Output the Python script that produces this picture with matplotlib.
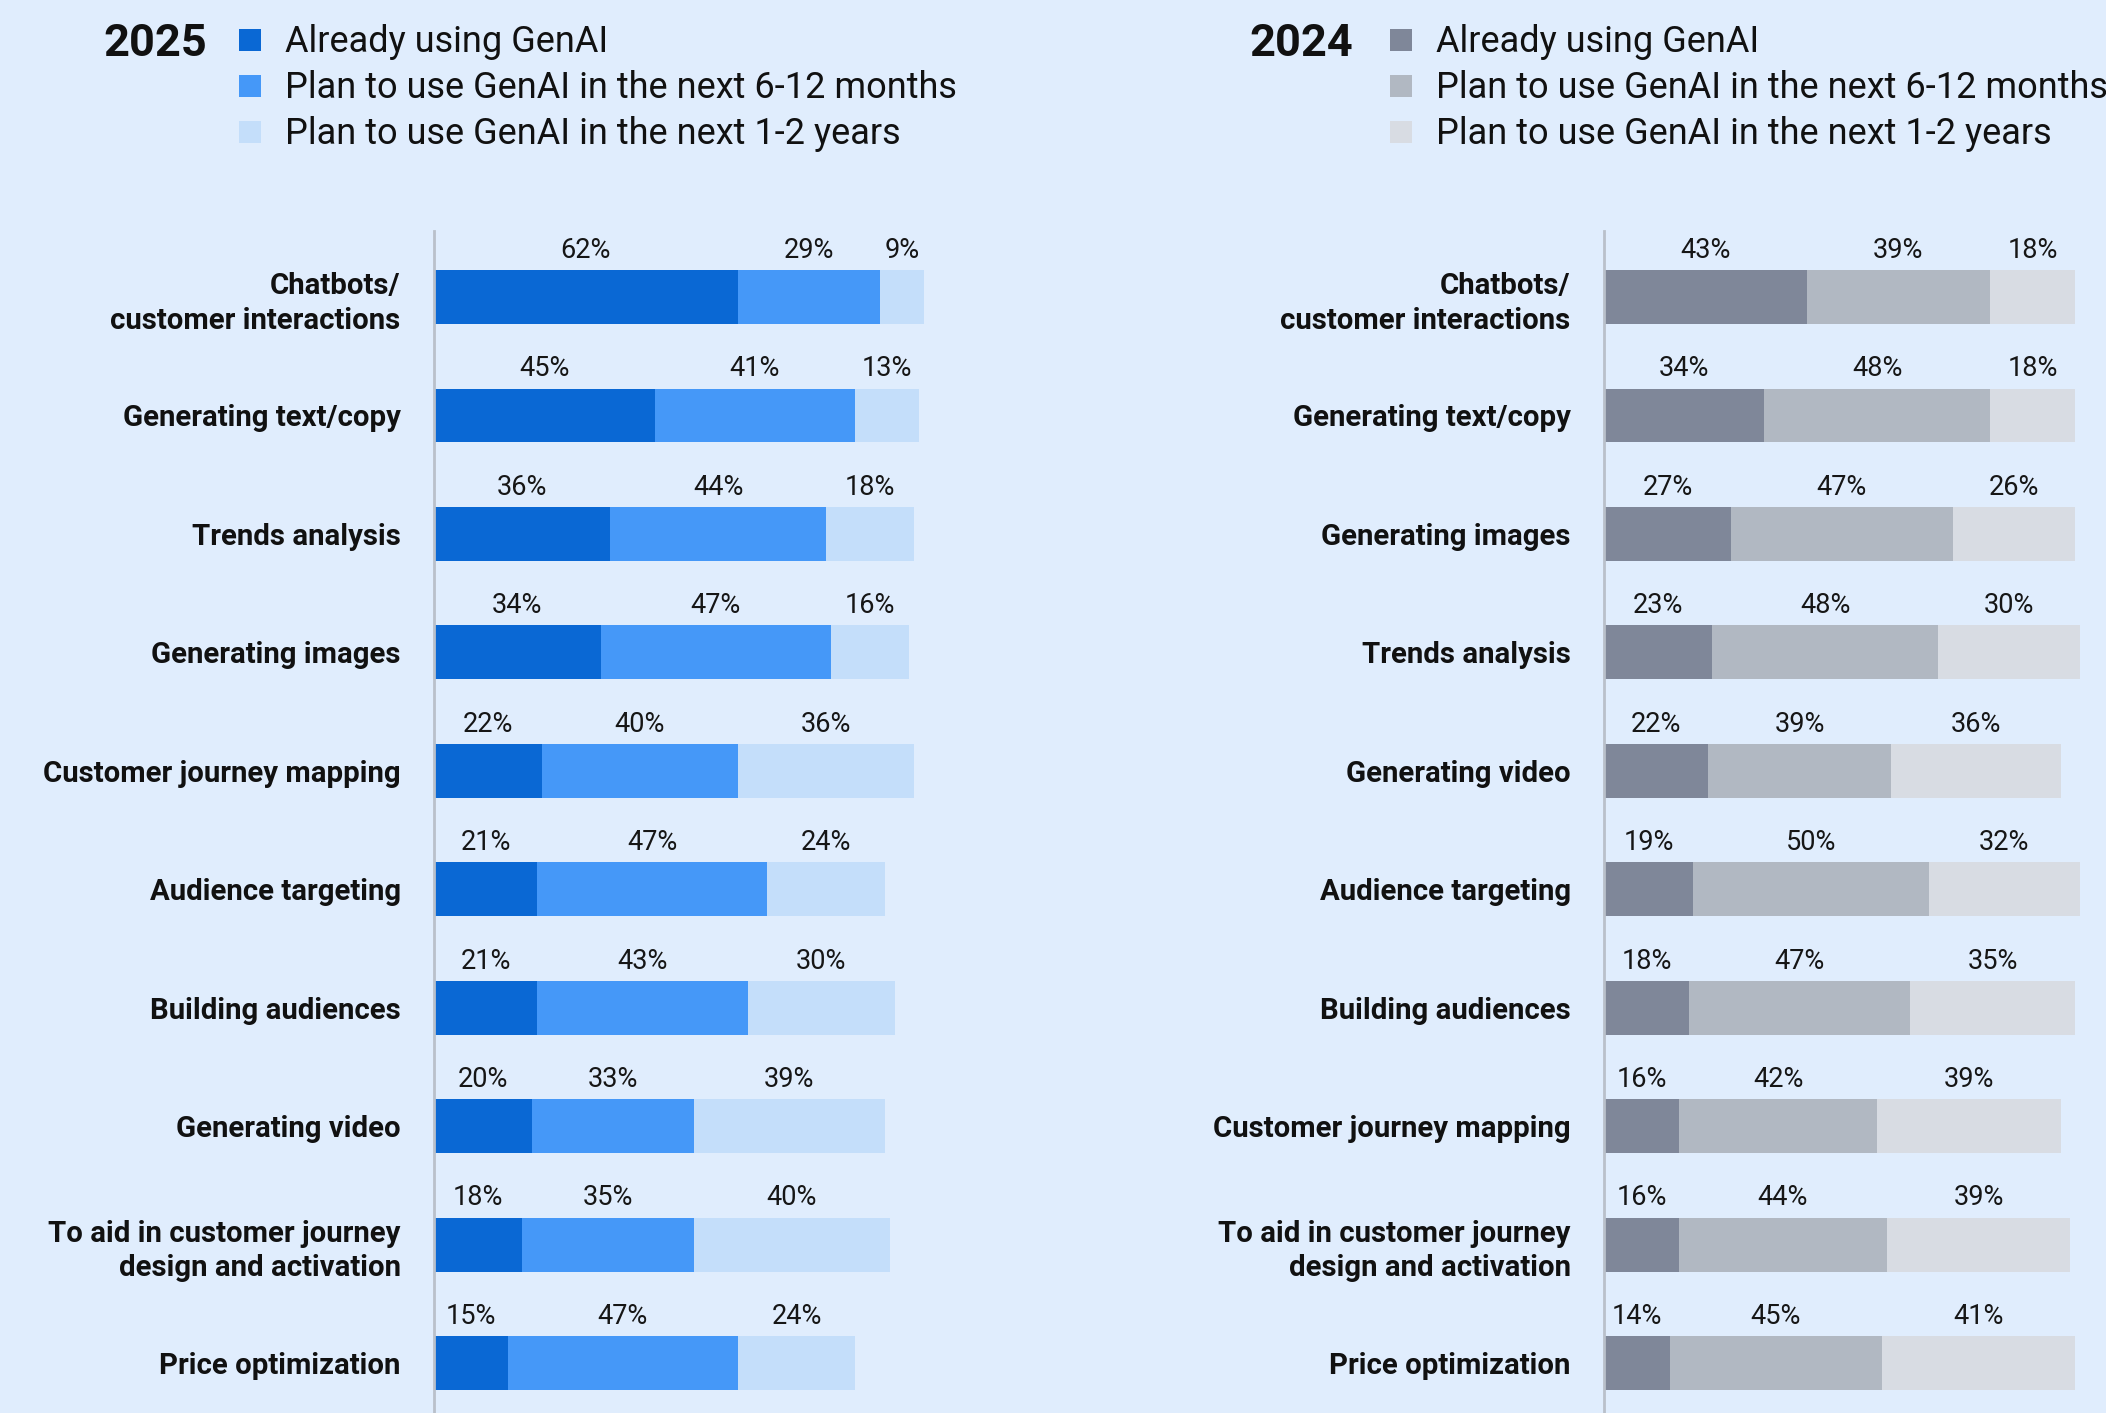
import matplotlib.pyplot as plt
from matplotlib.patches import Rectangle

plt.rcParams['font.family'] = ['Roboto', 'DejaVu Sans']

BG = '#E0EDFD'

# 2025 survey
cats_2025 = ['Chatbots/\ncustomer interactions', 'Generating text/copy', 'Trends analysis',
             'Generating images', 'Customer journey mapping', 'Audience targeting',
             'Building audiences', 'Generating video',
             'To aid in customer journey\ndesign and activation', 'Price optimization']
using_2025 = [62, 45, 36, 34, 22, 21, 21, 20, 18, 15]
months_2025 = [29, 41, 44, 47, 40, 47, 43, 33, 35, 47]
years_2025 = [9, 13, 18, 16, 36, 24, 30, 39, 40, 24]

# 2024 survey
cats_2024 = ['Chatbots/\ncustomer interactions', 'Generating text/copy', 'Generating images',
             'Trends analysis', 'Generating video', 'Audience targeting',
             'Building audiences', 'Customer journey mapping',
             'To aid in customer journey\ndesign and activation', 'Price optimization']
using_2024 = [43, 34, 27, 23, 22, 19, 18, 16, 16, 14]
months_2024 = [39, 48, 47, 48, 39, 50, 47, 42, 44, 45]
years_2024 = [18, 18, 26, 30, 36, 32, 35, 39, 39, 41]

series_names = ['Already using GenAI', 'Plan to use GenAI in the next 6-12 months',
                'Plan to use GenAI in the next 1-2 years']
blues = ['#0A68D4', '#4598F8', '#C4DEFA']
greys = ['#7F8799', '#B1B8C2', '#D8DCE3']

W, H = 2106, 1413
fig = plt.figure(figsize=(W / 100, H / 100), dpi=100, facecolor=BG)


def panel(x0, x100, cats, parts, colors, year, leg_x, sq_x):
    ax_top = 231
    right = W if x100 > 1500 else x100 + 80
    xmax = 100 * (right - x0) / (x100 - x0)
    ax = fig.add_axes([x0 / W, 0, (right - x0) / W, (H - ax_top) / H])
    ax.set_facecolor('none')
    n = len(cats)
    ys = list(range(n))
    left = [0] * n
    for vals, c in zip(parts, colors):
        ax.barh(ys, vals, left=left, height=0.455, color=c, linewidth=0)
        for y, l, v in zip(ys, left, vals):
            ax.text(l + v / 2, y - 0.395, f'{v}%', ha='center', va='center',
                    fontsize=19.5, color='#161616')
        left = [a + b for a, b in zip(left, vals)]
    ax.set_xlim(0, xmax)
    ax.set_ylim(n - 0.58, -0.557)
    ax.set_yticks(ys)
    ax.set_yticklabels(cats, fontsize=21.2, fontweight='bold', color='#111111',
                       linespacing=1.3)
    ax.tick_params(axis='y', length=0, pad=24)
    ax.set_xticks([])
    for s in ['top', 'right', 'bottom']:
        ax.spines[s].set_visible(False)
    ax.spines['left'].set_color('#B9C0CA')
    ax.spines['left'].set_linewidth(2)

    # legend block
    fig.text(leg_x / W, 1 - 44 / H, year, fontsize=32.5, fontweight='bold',
             ha='left', va='center', color='#111111')
    for i, (name, c) in enumerate(zip(series_names, colors)):
        yc = 40 + 46 * i
        fig.patches.append(Rectangle(((sq_x - 11) / W, 1 - (yc + 11) / H), 22 / W, 22 / H,
                                     transform=fig.transFigure, color=c, linewidth=0))
        fig.text((sq_x + 35) / W, 1 - (yc + 2) / H, name, fontsize=26,
                 ha='left', va='center', color='#111111')


panel(434, 924, cats_2025, [using_2025, months_2025, years_2025], blues, '2025', 103, 250)
panel(1604, 2075, cats_2024, [using_2024, months_2024, years_2024], greys, '2024', 1249, 1401)

fig.savefig('out.png', dpi=100, facecolor=BG)
